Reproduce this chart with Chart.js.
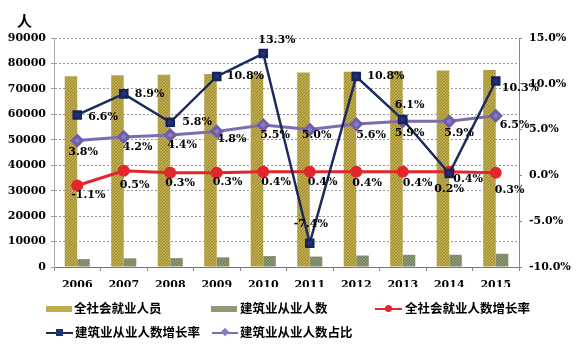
<!DOCTYPE html>
<html>
<head>
<meta charset="utf-8">
<script src="https://cdn.jsdelivr.net/npm/chart.js@4/dist/chart.umd.min.js"></script>
<style>
  html,body{margin:0;padding:0;background:#fff;}
  #wrap{position:relative;width:579px;height:353px;overflow:hidden;}
  canvas{position:absolute;left:0;top:0;}
  .t{position:absolute;font-family:"Noto Sans CJK SC",sans-serif;font-weight:bold;color:#000;white-space:nowrap;line-height:1;}
  .lg{font-size:12.5px;}
  .sw{position:absolute;}
</style>
</head>
<body>
<div id="wrap">
  <canvas id="c" width="579" height="353"></canvas>
  <div class="t" style="left:17px;top:13px;font-size:15px;">人</div>
  <div id="legend"></div>
</div>
<script>
// ---- data ----
const years = ['2006','2007','2008','2009','2010','2011','2012','2013','2014','2015'];
const totalEmployed = [74978, 75321, 75564, 75828, 76105, 76420, 76704, 76977, 77253, 77451];
const constructionEmployed = [3100, 3400, 3500, 3800, 4300, 4100, 4500, 4800, 4800, 5200];
const totalGrowth = [-1.1, 0.5, 0.3, 0.3, 0.4, 0.4, 0.4, 0.4, 0.4, 0.3];
const constructionGrowth = [6.6, 8.9, 5.8, 10.8, 13.3, -7.4, 10.8, 6.1, 0.2, 10.3];
const constructionShare = [3.8, 4.2, 4.4, 4.8, 5.5, 5.0, 5.6, 5.9, 5.9, 6.5];
const seriesNames = ['全社会就业人员','建筑业从业人数','全社会就业人数增长率','建筑业从业人数增长率','建筑业从业人数占比'];
const leftTicks = [0, 10000, 20000, 30000, 40000, 50000, 60000, 70000, 80000, 90000];
const rightTicks = [-10, -5, 0, 5, 10, 15];

// ---- label placement (style) ----
const offBlue = [[11,2],[11,0],[12,0],[10,0],[-5,-13],[-16,-19],[11,0],[-8,-14],[-15,16],[6,7]];
const offPurple = [[-9,12],[-1,10],[-3,10],[0,8],[-3,10],[-8,6],[0,11],[-8,12],[-5,12],[4,9]];
const offRed = [[-6,10],[-4,14],[-5,10],[-4,9],[-2,10],[-2,10],[-4,11],[0,11],[4,7],[-1,17]];

function makePattern(base, dot){
  const p = document.createElement('canvas');
  p.width = 3; p.height = 3;
  const g = p.getContext('2d');
  g.fillStyle = base; g.fillRect(0,0,3,3);
  g.fillStyle = dot; g.fillRect(0,0,1,1); g.fillRect(2,1,1,1); g.fillRect(1,2,1,1);
  return g.createPattern(p,'repeat');
}
const ctx = document.getElementById('c').getContext('2d');
const yellowPat = makePattern('#C0AC4C', '#9A8830');
const greenPat = makePattern('#8E9A76', '#6A7656');

const FONT = 'DejaVu Serif';
Chart.defaults.font.family = FONT;
Chart.defaults.font.weight = 'bold';
Chart.defaults.font.size = 11;
Chart.defaults.color = '#000';

const labelPlugin = {
  id: 'pctLabels',
  afterDatasetsDraw(chart){
    const c = chart.ctx;
    chart.data.datasets.forEach((ds, i) => {
      if (!ds.labelOffsets) return;
      const meta = chart.getDatasetMeta(i);
      meta.data.forEach((pt, j) => {
        const o = ds.labelOffsets[j];
        c.save();
        c.font = 'bold 11px "' + FONT + '"';
        c.fillStyle = '#000';
        c.textAlign = 'left';
        c.textBaseline = 'middle';
        c.fillText(ds.data[j].toFixed(1) + '%', pt.x + o[0], pt.y + o[1]);
        c.restore();
      });
    });
  }
};

new Chart(ctx, {
  type: 'bar',
  data: {
    labels: years,
    datasets: [
      { type:'bar', label: seriesNames[0], data: totalEmployed, yAxisID:'y', backgroundColor: yellowPat,
        categoryPercentage: 0.54, barPercentage: 1.0, order: 10 },
      { type:'bar', label: seriesNames[1], data: constructionEmployed, yAxisID:'y', backgroundColor: greenPat,
        categoryPercentage: 0.54, barPercentage: 1.0, order: 10 },
      { type:'line', label: seriesNames[2], data: totalGrowth, yAxisID:'y1', borderColor:'#E3262B', backgroundColor:'#E3262B',
        borderWidth: 3, pointStyle:'circle', pointRadius: 4.5, pointBackgroundColor:'#E3262B', pointBorderColor:'#E3262B',
        tension: 0, order: 3, labelOffsets: offRed },
      { type:'line', label: seriesNames[3], data: constructionGrowth, yAxisID:'y1', borderColor:'#1B2A5E', backgroundColor:'#1F3378',
        borderWidth: 2.5, pointStyle:'rect', pointRadius: 5, pointBackgroundColor:'#1F3378', pointBorderColor:'#16245A',
        tension: 0, order: 1, labelOffsets: offBlue },
      { type:'line', label: seriesNames[4], data: constructionShare, yAxisID:'y1', borderColor:'#7D6CB2', backgroundColor:'#8B7CC4',
        borderWidth: 3, pointStyle:'rectRot', pointRadius: 5, pointBackgroundColor:'#8B7CC4', pointBorderColor:'#6F5FA8',
        tension: 0, order: 2, labelOffsets: offPurple }
    ]
  },
  options: {
    responsive: false,
    animation: false,
    layout: { padding: { top: 38, bottom: 66, left: 0, right: 0 } },
    plugins: { legend: { display: false }, tooltip: { enabled: false } },
    scales: {
      x: {
        grid: { drawOnChartArea: false, drawTicks: true, tickLength: 4, color: '#888' },
        border: { display: true, color: '#777', dash: [4,3] },
        ticks: { padding: 8, font: { size: 11, weight: 'bold', family: FONT } },
        afterFit(s){ s.height = 20; }
      },
      y: {
        position: 'left',
        min: 0, max: 90000,
        afterBuildTicks(s){ s.ticks = leftTicks.map(v => ({ value: v })); },
        grid: { color: '#999', lineWidth: 1, tickLength: 3 },
        border: { display: true, color: '#aaa', dash: [2,2] },
        ticks: { padding: 5, callback: v => String(v), font: { size: 11, weight: 'bold', family: FONT } },
        afterFit(s){ s.width = 54; }
      },
      y1: {
        position: 'right',
        min: -10, max: 15,
        afterBuildTicks(s){ s.ticks = rightTicks.map(v => ({ value: v })); },
        grid: { drawOnChartArea: false, tickLength: 3, color: '#888' },
        border: { display: true, color: '#888' },
        ticks: { padding: 7, callback: v => Number(v).toFixed(1) + '%', font: { size: 11, weight: 'bold', family: FONT } },
        afterFit(s){ s.width = 60; }
      }
    }
  },
  plugins: [labelPlugin]
});

// ---- HTML legend ----
const lg = document.getElementById('legend');
function add(html){ lg.insertAdjacentHTML('beforeend', html); }
function text(x, y, s){ add('<div class="t lg" style="left:'+x+'px;top:'+(y-7)+'px;">'+s+'</div>'); }
// row 1
add('<div class="sw" style="left:46px;top:306px;width:26px;height:6px;background:#C0AC4C;"></div>');
text(74, 309, seriesNames[0]);
add('<div class="sw" style="left:211px;top:306px;width:26px;height:6px;background:#8E9A76;"></div>');
text(240, 309, seriesNames[1]);
add('<div class="sw" style="left:375px;top:308px;width:27px;height:2px;background:#E3262B;"></div>');
add('<div class="sw" style="left:385px;top:305px;width:7px;height:7px;border-radius:50%;background:#E3262B;"></div>');
text(405, 309, seriesNames[2]);
// row 2
add('<div class="sw" style="left:46px;top:332px;width:27px;height:1.5px;background:#1B2A5E;"></div>');
add('<div class="sw" style="left:56px;top:329px;width:7px;height:7px;background:#1F3378;"></div>');
text(75, 333, seriesNames[3]);
add('<div class="sw" style="left:212px;top:332px;width:26px;height:1.5px;background:#7D6CB2;"></div>');
add('<div class="sw" style="left:222px;top:329px;width:6px;height:6px;background:#8B7CC4;transform:rotate(45deg);"></div>');
text(240, 333, seriesNames[4]);
</script>
</body>
</html>
